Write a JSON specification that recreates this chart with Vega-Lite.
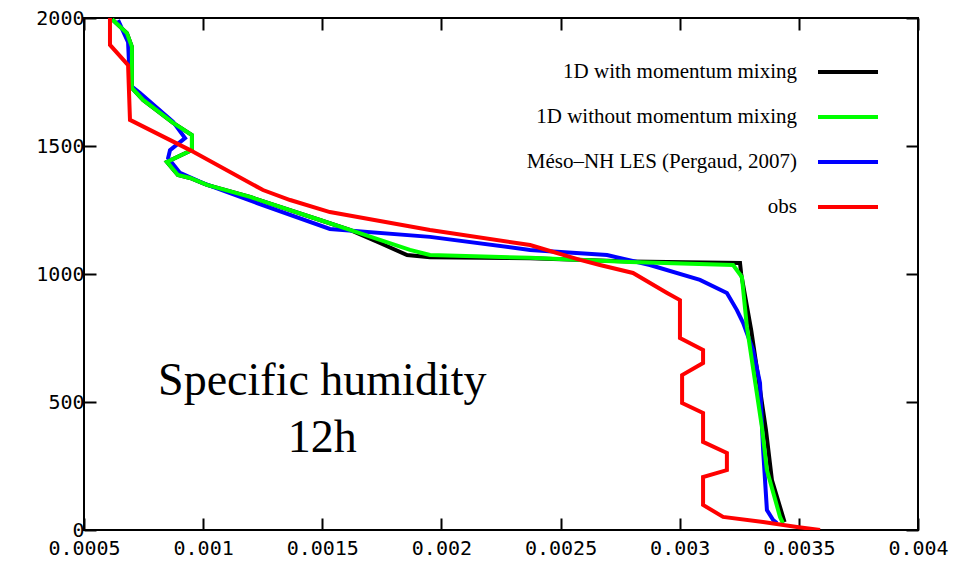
{
  "$schema": "https://vega.github.io/schema/vega-lite/v6.json",
  "width": 834,
  "height": 512,
  "autosize": {"type": "none"},
  "padding": {"left": 84, "top": 18, "right": 38, "bottom": 35},
  "background": "white",
  "config": {
    "view": {"stroke": "black", "strokeWidth": 2},
    "axis": {
      "grid": false,
      "domain": false,
      "title": null,
      "tickSize": -12,
      "tickWidth": 2,
      "tickColor": "#000",
      "labelFont": "DejaVu Sans Mono",
      "labelFontSize": 20,
      "labelColor": "#000",
      "labelFlush": false,
      "labelOverlap": false
    }
  },
  "datasets": {
    "profiles": [
      {"series": "1D with momentum mixing", "q": 0.000618, "z": 1995},
      {"series": "1D with momentum mixing", "q": 0.000680, "z": 1941},
      {"series": "1D with momentum mixing", "q": 0.000701, "z": 1887},
      {"series": "1D with momentum mixing", "q": 0.000701, "z": 1727},
      {"series": "1D with momentum mixing", "q": 0.000748, "z": 1680},
      {"series": "1D with momentum mixing", "q": 0.000874, "z": 1590},
      {"series": "1D with momentum mixing", "q": 0.000953, "z": 1543},
      {"series": "1D with momentum mixing", "q": 0.000953, "z": 1484},
      {"series": "1D with momentum mixing", "q": 0.000848, "z": 1438},
      {"series": "1D with momentum mixing", "q": 0.000894, "z": 1387},
      {"series": "1D with momentum mixing", "q": 0.000945, "z": 1375},
      {"series": "1D with momentum mixing", "q": 0.001016, "z": 1348},
      {"series": "1D with momentum mixing", "q": 0.001197, "z": 1301},
      {"series": "1D with momentum mixing", "q": 0.001490, "z": 1211},
      {"series": "1D with momentum mixing", "q": 0.001616, "z": 1172},
      {"series": "1D with momentum mixing", "q": 0.001742, "z": 1121},
      {"series": "1D with momentum mixing", "q": 0.001856, "z": 1074},
      {"series": "1D with momentum mixing", "q": 0.001952, "z": 1065},
      {"series": "1D with momentum mixing", "q": 0.002372, "z": 1062},
      {"series": "1D with momentum mixing", "q": 0.002791, "z": 1049},
      {"series": "1D with momentum mixing", "q": 0.003253, "z": 1043},
      {"series": "1D with momentum mixing", "q": 0.003258, "z": 1000},
      {"series": "1D with momentum mixing", "q": 0.003300, "z": 781},
      {"series": "1D with momentum mixing", "q": 0.003362, "z": 391},
      {"series": "1D with momentum mixing", "q": 0.003387, "z": 195},
      {"series": "1D with momentum mixing", "q": 0.003440, "z": 31},

      {"series": "Méso–NH LES (Pergaud, 2007)", "q": 0.000643, "z": 1992},
      {"series": "Méso–NH LES (Pergaud, 2007)", "q": 0.000685, "z": 1906},
      {"series": "Méso–NH LES (Pergaud, 2007)", "q": 0.000693, "z": 1738},
      {"series": "Méso–NH LES (Pergaud, 2007)", "q": 0.000735, "z": 1707},
      {"series": "Méso–NH LES (Pergaud, 2007)", "q": 0.000874, "z": 1594},
      {"series": "Méso–NH LES (Pergaud, 2007)", "q": 0.000924, "z": 1531},
      {"series": "Méso–NH LES (Pergaud, 2007)", "q": 0.000861, "z": 1484},
      {"series": "Méso–NH LES (Pergaud, 2007)", "q": 0.000853, "z": 1453},
      {"series": "Méso–NH LES (Pergaud, 2007)", "q": 0.000903, "z": 1395},
      {"series": "Méso–NH LES (Pergaud, 2007)", "q": 0.000999, "z": 1355},
      {"series": "Méso–NH LES (Pergaud, 2007)", "q": 0.001226, "z": 1277},
      {"series": "Méso–NH LES (Pergaud, 2007)", "q": 0.001532, "z": 1176},
      {"series": "Méso–NH LES (Pergaud, 2007)", "q": 0.001952, "z": 1145},
      {"series": "Méso–NH LES (Pergaud, 2007)", "q": 0.002372, "z": 1094},
      {"series": "Méso–NH LES (Pergaud, 2007)", "q": 0.002695, "z": 1074},
      {"series": "Méso–NH LES (Pergaud, 2007)", "q": 0.002875, "z": 1035},
      {"series": "Méso–NH LES (Pergaud, 2007)", "q": 0.003085, "z": 977},
      {"series": "Méso–NH LES (Pergaud, 2007)", "q": 0.003198, "z": 926},
      {"series": "Méso–NH LES (Pergaud, 2007)", "q": 0.003240, "z": 859},
      {"series": "Méso–NH LES (Pergaud, 2007)", "q": 0.003266, "z": 809},
      {"series": "Méso–NH LES (Pergaud, 2007)", "q": 0.003308, "z": 703},
      {"series": "Méso–NH LES (Pergaud, 2007)", "q": 0.003337, "z": 574},
      {"series": "Méso–NH LES (Pergaud, 2007)", "q": 0.003350, "z": 313},
      {"series": "Méso–NH LES (Pergaud, 2007)", "q": 0.003366, "z": 78},
      {"series": "Méso–NH LES (Pergaud, 2007)", "q": 0.003392, "z": 39},
      {"series": "Méso–NH LES (Pergaud, 2007)", "q": 0.003408, "z": 27},

      {"series": "1D without momentum mixing", "q": 0.000618, "z": 1995},
      {"series": "1D without momentum mixing", "q": 0.000680, "z": 1941},
      {"series": "1D without momentum mixing", "q": 0.000701, "z": 1887},
      {"series": "1D without momentum mixing", "q": 0.000701, "z": 1727},
      {"series": "1D without momentum mixing", "q": 0.000748, "z": 1680},
      {"series": "1D without momentum mixing", "q": 0.000874, "z": 1590},
      {"series": "1D without momentum mixing", "q": 0.000953, "z": 1543},
      {"series": "1D without momentum mixing", "q": 0.000953, "z": 1484},
      {"series": "1D without momentum mixing", "q": 0.000848, "z": 1438},
      {"series": "1D without momentum mixing", "q": 0.000894, "z": 1387},
      {"series": "1D without momentum mixing", "q": 0.000945, "z": 1375},
      {"series": "1D without momentum mixing", "q": 0.001016, "z": 1348},
      {"series": "1D without momentum mixing", "q": 0.001197, "z": 1301},
      {"series": "1D without momentum mixing", "q": 0.001490, "z": 1211},
      {"series": "1D without momentum mixing", "q": 0.001616, "z": 1172},
      {"series": "1D without momentum mixing", "q": 0.001868, "z": 1094},
      {"series": "1D without momentum mixing", "q": 0.001952, "z": 1074},
      {"series": "1D without momentum mixing", "q": 0.002372, "z": 1063},
      {"series": "1D without momentum mixing", "q": 0.002791, "z": 1047},
      {"series": "1D without momentum mixing", "q": 0.003224, "z": 1035},
      {"series": "1D without momentum mixing", "q": 0.003261, "z": 988},
      {"series": "1D without momentum mixing", "q": 0.003282, "z": 793},
      {"series": "1D without momentum mixing", "q": 0.003345, "z": 402},
      {"series": "1D without momentum mixing", "q": 0.003366, "z": 234},
      {"series": "1D without momentum mixing", "q": 0.003421, "z": 51},
      {"series": "1D without momentum mixing", "q": 0.003433, "z": 27},

      {"series": "obs", "q": 0.000609, "z": 2000},
      {"series": "obs", "q": 0.000609, "z": 1895},
      {"series": "obs", "q": 0.000685, "z": 1816},
      {"series": "obs", "q": 0.000693, "z": 1602},
      {"series": "obs", "q": 0.000945, "z": 1484},
      {"series": "obs", "q": 0.001251, "z": 1328},
      {"series": "obs", "q": 0.001365, "z": 1289},
      {"series": "obs", "q": 0.001532, "z": 1242},
      {"series": "obs", "q": 0.001952, "z": 1172},
      {"series": "obs", "q": 0.002372, "z": 1113},
      {"series": "obs", "q": 0.002582, "z": 1055},
      {"series": "obs", "q": 0.002665, "z": 1035},
      {"series": "obs", "q": 0.002804, "z": 1004},
      {"series": "obs", "q": 0.002947, "z": 926},
      {"series": "obs", "q": 0.003001, "z": 898},
      {"series": "obs", "q": 0.003001, "z": 750},
      {"series": "obs", "q": 0.003098, "z": 703},
      {"series": "obs", "q": 0.003098, "z": 652},
      {"series": "obs", "q": 0.003010, "z": 605},
      {"series": "obs", "q": 0.003010, "z": 496},
      {"series": "obs", "q": 0.003098, "z": 457},
      {"series": "obs", "q": 0.003098, "z": 344},
      {"series": "obs", "q": 0.003198, "z": 301},
      {"series": "obs", "q": 0.003198, "z": 234},
      {"series": "obs", "q": 0.003098, "z": 207},
      {"series": "obs", "q": 0.003098, "z": 98},
      {"series": "obs", "q": 0.003182, "z": 51},
      {"series": "obs", "q": 0.003350, "z": 31},
      {"series": "obs", "q": 0.003492, "z": 12},
      {"series": "obs", "q": 0.003589, "z": 0}
    ]
  },
  "layer": [
    {
      "data": {"name": "profiles"},
      "mark": {"type": "line", "strokeWidth": 4, "clip": true},
      "encoding": {
        "x": {
          "field": "q", "type": "quantitative",
          "scale": {"domain": [0.0005, 0.004], "nice": false, "zero": false},
          "axis": {"orient": "bottom", "values": [0.0005, 0.001, 0.0015, 0.002, 0.0025, 0.003, 0.0035, 0.004], "format": "~g", "labelPadding": 20}
        },
        "y": {
          "field": "z", "type": "quantitative",
          "scale": {"domain": [0, 2000], "nice": false},
          "axis": {"orient": "left", "values": [0, 500, 1000, 1500, 2000], "format": "d", "labelPadding": 12}
        },
        "color": {
          "field": "series", "type": "nominal",
          "scale": {
            "domain": ["1D with momentum mixing", "1D without momentum mixing", "Méso–NH LES (Pergaud, 2007)", "obs"],
            "range": ["#000000", "#00ff00", "#0000ff", "#ff0000"]
          },
          "legend": {
            "orient": "none", "legendX": 732, "legendY": 22, "title": null,
            "symbolType": "stroke", "symbolSize": 3600, "symbolStrokeWidth": 4,
            "labelFont": "Liberation Serif", "labelFontSize": 21, "labelColor": "#000",
            "labelAlign": "right", "labelOffset": -83, "rowPadding": 3, "labelLimit": 400
          }
        },
        "order": {"field": "z", "sort": "descending"}
      }
    },
    {
      "data": {"values": [{}]},
      "mark": {"type": "text", "text": ["Specific humidity", "12h"], "font": "Liberation Serif", "fontSize": 46, "lineHeight": 57, "align": "center", "baseline": "alphabetic", "color": "#000"},
      "encoding": {
        "x": {
          "datum": 0.0015, "type": "quantitative",
          "scale": {"domain": [0.0005, 0.004], "nice": false, "zero": false},
          "axis": {"orient": "top", "values": [0.0005, 0.001, 0.0015, 0.002, 0.0025, 0.003, 0.0035, 0.004], "labels": false}
        },
        "y": {
          "datum": 527, "type": "quantitative",
          "scale": {"domain": [0, 2000], "nice": false},
          "axis": {"orient": "right", "values": [0, 500, 1000, 1500, 2000], "labels": false}
        }
      }
    }
  ],
  "resolve": {"scale": {"x": "independent", "y": "independent"}}
}
